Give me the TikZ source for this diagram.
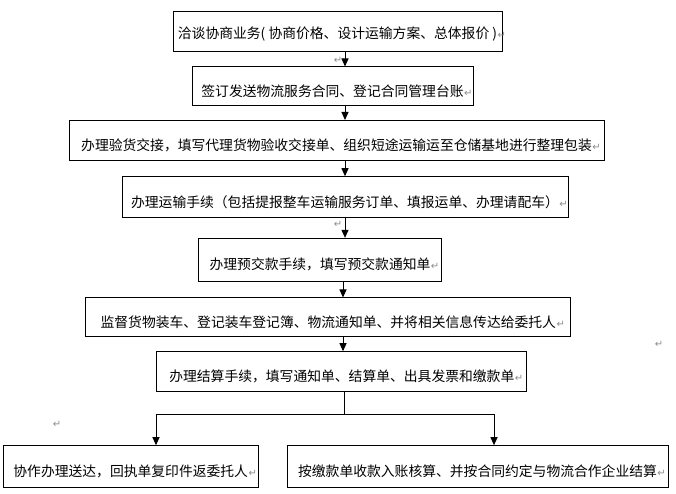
\documentclass[tikz,border=0pt]{standalone}
\usepackage{fontspec}
\usepackage{tikz}
\usetikzlibrary{positioning}
\usetikzlibrary{arrows.meta}
\newfontfamily\cjk{Noto Sans CJK SC}
\newfontfamily\markfont{DejaVu Sans}
\newcommand{\retmark}{\rlap{\kern0.5pt\markfont\fontsize{10}{10}\selectfont\color{black!45}↵}}
\tikzstyle{flow_box} = [rectangle, draw=black, line width=1pt, font={\cjk\fontsize{13.8}{16}\selectfont}, inner xsep=0pt, inner ysep=2pt, text height=21.8pt, text depth=1.4pt]
\tikzstyle{ret_mark} = [font={\markfont\fontsize{10}{10}\selectfont}, text=black!45, inner sep=0pt]

\begin{document}
\begin{tikzpicture}[x=1pt, y=-1pt, ->, >={Triangle[length=8pt,width=7pt]}, line width=1pt]
\useasboundingbox (0,0) rectangle (676,494);
\node [flow_box, minimum width=329pt, minimum height=40pt, text height=13.8pt] (deal) at (337.5,32) {洽谈协商业务( 协商价格、设计运输方案、总体报价 )\retmark};
\node [flow_box, minimum width=281pt, minimum height=39pt] (sign) at (332.5,86.5) {签订发送物流服务合同、登记合同管理台账\retmark};
\node [flow_box, minimum width=535pt, minimum height=40pt] (inspect) at (336.5,140.5) {办理验货交接，填写代理货物验收交接单、组织短途运输运至仓储基地进行整理包装\retmark};
\node [flow_box, minimum width=446pt, minimum height=40.6pt] (transport) at (345,197) {办理运输手续（包括提报整车运输服务订单、填报运单、办理请配车）\retmark};
\node [flow_box, minimum width=242.5pt, minimum height=42.7pt] (prepay) at (320,259.7) {办理预交款手续，填写预交款通知单\retmark};
\node [flow_box, minimum width=485pt, minimum height=38.7pt] (load) at (328.3,317.3) {监督货物装车、登记装车登记簿、物流通知单、并将相关信息传达给委托人\retmark};
\node [flow_box, minimum width=370pt, minimum height=40pt] (settle) at (341.8,371.7) {办理结算手续，填写通知单、结算单、出具发票和缴款单\retmark};
\node [flow_box, minimum width=255pt, minimum height=41.6pt] (deliver) at (130.7,466.5) {协作办理送达，回执单复印件返委托人\retmark};
\node [flow_box, minimum width=381pt, minimum height=41.6pt] (account) at (477.5,466.5) {按缴款单收款入账核算、并按合同约定与物流合作企业结算\retmark};

% stray paragraph marks
\node [ret_mark] (mark1) at (338,60) {↵};
\node [ret_mark] (mark2) at (338,224) {↵};
\node [ret_mark] (mark3) at (659,344) {↵};
\node [ret_mark] (mark4) at (57,424) {↵};

\coordinate (spine) at (345,0);
\coordinate (spine2) at (343,0);
\coordinate (split) at (344.3,414);
\coordinate (ldrop) at (156,414);
\coordinate (rdrop) at (494,414);

\draw (deal.south -| spine) -- (sign.north -| spine);
\draw (sign.south -| spine) -- (inspect.north -| spine);
\draw (inspect.south -| spine) -- (transport.north -| spine);
\draw (transport.south -| spine) -- (prepay.north -| spine);
\draw (prepay.south -| spine2) -- (load.north -| spine2);
\draw (load.south -| spine2) -- (settle.north -| spine2);
\draw [-] (settle.south -| split) -- (split);
\draw (split) -- (ldrop) -- (deliver.north -| ldrop);
\draw (split) -- (rdrop) -- (account.north -| rdrop);
\end{tikzpicture}
\end{document}
